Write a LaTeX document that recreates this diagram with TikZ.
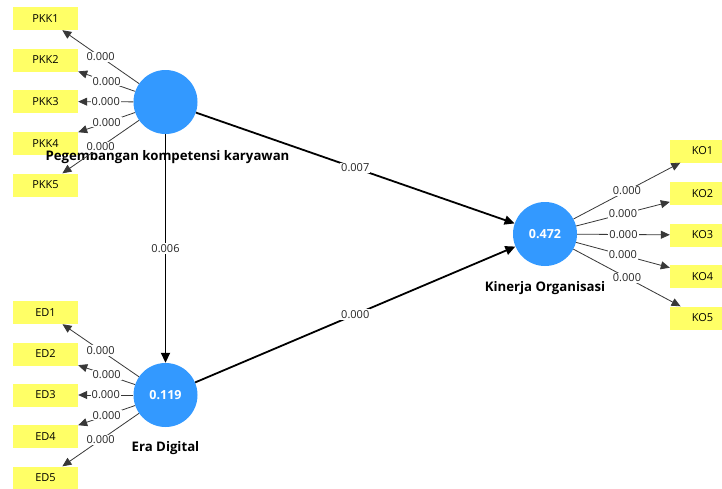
\documentclass[tikz,border=0pt]{standalone}
\usepackage{fontspec}
\setmainfont{Open Sans}
\usetikzlibrary{arrows.meta}
\definecolor{lvblue}{RGB}{51,153,255}
\definecolor{mvyellow}{RGB}{255,255,102}
\begin{document}
\begin{tikzpicture}[x=1pt,y=-1pt,
  latent/.style={circle,fill=lvblue,minimum size=64pt,inner sep=0pt,text=white,
    font=\fontsize{12.5}{14}\selectfont\bfseries},
  indicator/.style={rectangle,fill=mvyellow,minimum width=65pt,minimum height=23pt,
    inner sep=0pt,font=\fontsize{11}{14}\selectfont},
  lvname/.style={inner sep=0pt,font=\fontsize{13.2}{15}\selectfont\bfseries},
  loading/.style={-{Triangle[length=9pt,width=8pt]},draw=black!78,line width=0.8pt},
  structpath/.style={-{Triangle[length=10pt,width=9pt]},draw=black,line width=1.8pt},
  coef/.style={fill=white,inner sep=1pt,font=\fontsize{11}{14}\selectfont,text=black!85}]
\clip (0,0) rectangle (722,488);
\fill[white] (0,0) rectangle (722,488);

% latent variables
\node[latent] (pkk) at (165.5,102) {};
\node[latent] (ed)  at (165.5,395) {0.119};
\node[latent] (ko)  at (545,234) {0.472};

% indicators
\node[indicator] (pkk1) at (45.5,18.5) {PKK1};
\node[indicator] (pkk2) at (45.5,60) {PKK2};
\node[indicator] (pkk3) at (45.5,101.5) {PKK3};
\node[indicator] (pkk4) at (45.5,143.5) {PKK4};
\node[indicator] (pkk5) at (45.5,185) {PKK5};

\node[indicator] (ed1) at (45.5,312.5) {ED1};
\node[indicator] (ed2) at (45.5,354) {ED2};
\node[indicator] (ed3) at (45.5,395) {ED3};
\node[indicator] (ed4) at (45.5,436.5) {ED4};
\node[indicator] (ed5) at (45.5,478) {ED5};

\node[indicator] (ko1) at (702.5,151) {KO1};
\node[indicator] (ko2) at (702.5,193.5) {KO2};
\node[indicator] (ko3) at (702.5,235) {KO3};
\node[indicator] (ko4) at (702.5,276.5) {KO4};
\node[indicator] (ko5) at (702.5,318) {KO5};

% construct names
\node[lvname] (pkkname) at (167.5,157) {Pegembangan kompetensi karyawan};
\node[lvname] (edname)  at (165.5,448) {Era Digital};
\node[lvname] (koname)  at (545,288) {Kinerja Organisasi};

% outer loadings
\foreach \i in {1,...,5} {
  \draw[loading] (pkk) -- node[coef]{0.000} (pkk\i);
  \draw[loading] (ed) -- node[coef]{0.000} (ed\i);
  \draw[loading] (ko) -- node[coef]{0.000} (ko\i);
}

% inner model
\draw[structpath] (pkk) -- node[coef]{0.007} (ko);
\draw[structpath] (pkk) -- node[coef]{0.006} (ed);
\draw[structpath] (ed) -- node[coef]{0.000} (ko);
\end{tikzpicture}
\end{document}
